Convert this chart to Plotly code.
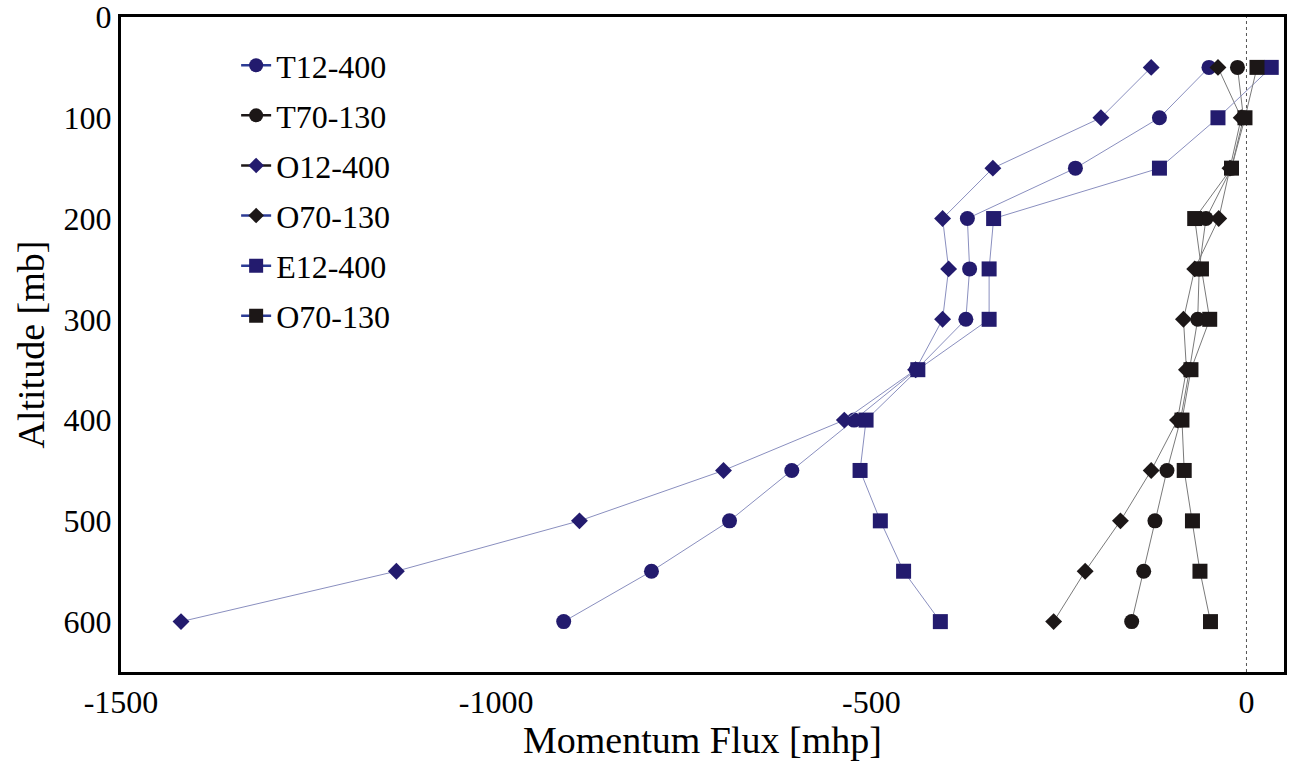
import plotly.graph_objects as go

altitude = [50, 100, 150, 200, 250, 300, 350, 400, 450, 500, 550, 600]

t12_400 = [-50, -116, -228, -372, -369, -374, -440, -523, -606, -689, -793, -910]
t70_130 = [-12, -4, -20, -54, -63, -65, -76, -88, -106, -122, -137, -153]
o12_400 = [-127, -194, -338, -405, -397, -405, -441, -536, -697, -889, -1133, -1420]
o70_130_d = [-38, -7, -22, -37, -69, -84, -80, -92, -127, -168, -215, -257]
e12_400 = [33, -38, -116, -337, -343, -343, -438, -507, -515, -488, -457, -408]
o70_130_s = [14, -2, -20, -69, -60, -49, -74, -86, -83, -72, -62, -48]

x_ticks = [-1500, -1000, -500, 0]
y_ticks = [0, 100, 200, 300, 400, 500, 600]

NAVY = "#231b6e"
BLACK = "#1c1717"
BLUE_LINE = "#8a8fbf"
GREY_LINE = "#7a7a7a"
LEG_BLUE = "#2c3b94"
LEG_BLACK = "#1c1717"
FONT = "Liberation Serif"

series = [
    ("T12-400", t12_400, "circle", 15, NAVY, BLUE_LINE, LEG_BLUE),
    ("T70-130", t70_130, "circle", 15, BLACK, GREY_LINE, LEG_BLACK),
    ("O12-400", o12_400, "diamond", 13, NAVY, BLUE_LINE, LEG_BLACK),
    ("O70-130", o70_130_d, "diamond", 13, BLACK, GREY_LINE, LEG_BLUE),
    ("E12-400", e12_400, "square", 15, NAVY, BLUE_LINE, LEG_BLUE),
    ("O70-130", o70_130_s, "square", 15, BLACK, GREY_LINE, LEG_BLUE),
]

fig = go.Figure()
for i, (name, vals, sym, size, mcol, lcol, legcol) in enumerate(series):
    fig.add_trace(go.Scatter(
        x=vals, y=altitude, mode="lines+markers", name=name,
        line=dict(color=lcol, width=1),
        marker=dict(symbol=sym, size=size, color=mcol, line=dict(width=0)),
        showlegend=False,
    ))
for i, (name, vals, sym, size, mcol, lcol, legcol) in enumerate(series):
    fig.add_trace(go.Scatter(
        x=[None], y=[None], mode="lines+markers", name=name,
        line=dict(color=legcol, width=2.5),
        marker=dict(symbol=sym, size=size - 1, color=mcol, line=dict(width=0)),
        legendgroup=f"g{i}", showlegend=True,
    ))

fig.add_shape(type="line", x0=0, x1=0, y0=0, y1=1, xref="x", yref="paper",
              line=dict(color="#555555", width=1, dash="dot"), layer="below")

fig.add_annotation(text="Momentum Flux [mhp]", xref="paper", yref="paper",
                   x=0.5, y=-(740 - 672) / 655, xanchor="center", yanchor="middle",
                   showarrow=False, font=dict(family=FONT, size=38, color="black"))
fig.add_annotation(text="Altitude [mb]", xref="paper", yref="paper",
                   x=-(121 - 30) / 1163, y=0.5, xanchor="center", yanchor="middle",
                   textangle=-90, showarrow=False,
                   font=dict(family=FONT, size=38, color="black"))

fig.update_layout(
    width=1294, height=762,
    margin=dict(l=121, r=10, t=17, b=90, autoexpand=False),
    paper_bgcolor="white", plot_bgcolor="white",
    font=dict(family=FONT, color="black", size=32),
    showlegend=True,
    legend=dict(
        x=0.099, y=0.968, xanchor="left", yanchor="top",
        font=dict(family=FONT, size=32, color="black"),
        bgcolor="rgba(0,0,0,0)", traceorder="grouped", tracegroupgap=5.5,
        itemwidth=30,
    ),
)
fig.update_xaxes(
    range=[-1500, 50], tickvals=x_ticks, ticktext=[str(v) for v in x_ticks],
    showgrid=False, zeroline=False, showline=True, linewidth=3, linecolor="black",
    mirror=True, ticks="", tickfont=dict(family=FONT, size=32, color="black"),
    automargin=False, ticklabeloverflow="allow",
)
fig.update_yaxes(
    range=[650, 0], tickvals=y_ticks, ticktext=[str(v) for v in y_ticks],
    showgrid=False, zeroline=False, showline=True, linewidth=3, linecolor="black",
    mirror=True, ticks="", tickfont=dict(family=FONT, size=32, color="black"),
    automargin=False, ticklabeloverflow="allow",
)

fig.write_html("out.html", config={"displayModeBar": False},
               post_script="document.body.style.margin='0';document.body.style.overflow='hidden';")
